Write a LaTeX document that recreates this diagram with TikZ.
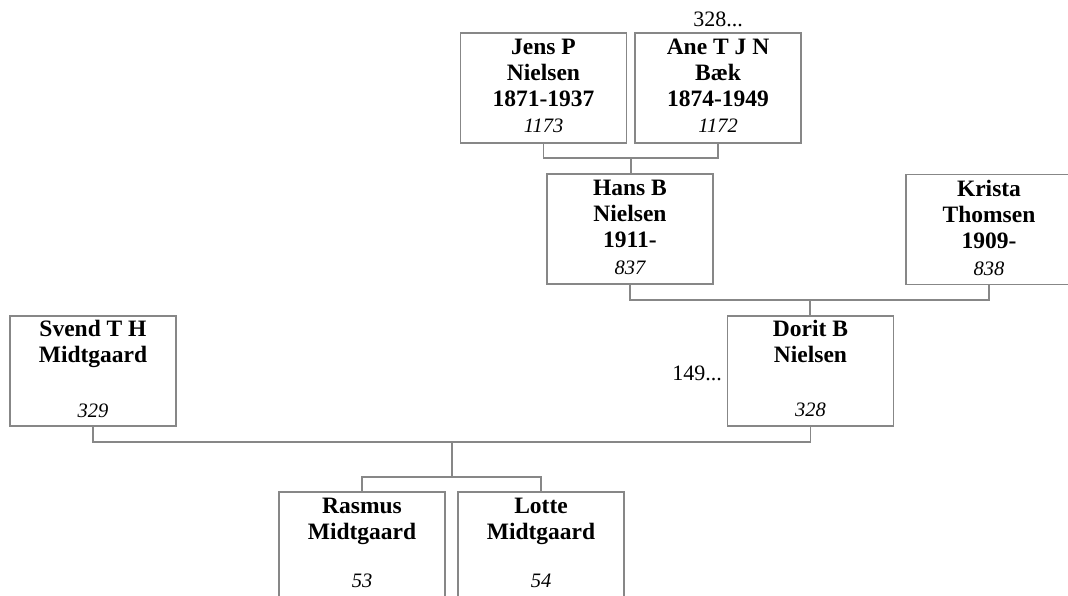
\documentclass[tikz,border=0pt]{standalone}
\usepackage{fontspec}
\setmainfont{Liberation Serif}
\definecolor{linegray}{RGB}{135,135,135}
\begin{document}
\begin{tikzpicture}[x=1pt,y=-1pt,
  person/.style={draw=linegray,line width=1.1pt,minimum width=166pt,minimum height=110pt,inner sep=0pt,fill=white},
  namebox/.style={anchor=north,inner sep=0pt,align=center,font=\fontsize{23.5}{26}\selectfont\bfseries},
  idtext/.style={anchor=base,inner sep=0pt,font=\fontsize{20.5}{22}\selectfont\itshape},
  reftext/.style={inner sep=0pt,font=\fontsize{22}{25}\selectfont},
  conn/.style={draw=linegray,line width=1.1pt}]
\useasboundingbox (0,0) rectangle (1068,596);
% boxes
\node[person] (jens)   at (543.5,88) {};
\node[person] (ane)    at (718,88) {};
\node[person] (hans)   at (630,229) {};
\node[person] (krista) at (989,229.5) {};
\node[person] (svend)  at (93,371) {};
\node[person] (dorit)  at (810.5,371) {};
\node[person] (rasmus) at (362,547) {};
\node[person] (lotte)  at (541,547) {};
% names
\node[namebox] (jensN)   at ([yshift=-4pt]jens.north)   {\strut Jens P\\Nielsen\\1871-1937};
\node[namebox] (aneN)    at ([yshift=-4pt]ane.north)    {\strut Ane T J N\\Bæk\\1874-1949};
\node[namebox] (hansN)   at ([yshift=-4pt]hans.north)   {\strut Hans B\\Nielsen\\1911-};
\node[namebox] (kristaN) at ([yshift=-4pt]krista.north) {\strut Krista\\Thomsen\\1909-};
\node[namebox] (svendN)  at ([yshift=-3pt]svend.north)  {\strut Svend T H\\Midtgaard};
\node[namebox] (doritN)  at ([yshift=-3pt]dorit.north)  {\strut Dorit B\\Nielsen};
\node[namebox] (rasmusN) at ([yshift=-4pt]rasmus.north) {\strut Rasmus\\Midtgaard};
\node[namebox] (lotteN)  at ([yshift=-4pt]lotte.north)  {\strut Lotte\\Midtgaard};
% ids
\node[idtext] (jensI)   at ([yshift=11pt]jens.south)   {1173};
\node[idtext] (aneI)    at ([yshift=11pt]ane.south)    {1172};
\node[idtext] (hansI)   at ([yshift=10pt]hans.south)   {837};
\node[idtext] (kristaI) at ([yshift=10pt]krista.south) {838};
\node[idtext] (svendI)  at ([yshift=9pt]svend.south)   {329};
\node[idtext] (doritI)  at ([yshift=10pt]dorit.south)  {328};
\node[idtext] (rasmusI) at (362,587) {53};
\node[idtext] (lotteI)  at (541,587) {54};
% references
\node[reftext,anchor=base] (ref328) at (718,27) {328...};
\node[reftext,anchor=base east] (ref149) at (722,380) {149...};
% connectors
\coordinate (m1) at (631,158);
\coordinate (m2) at (810,300);
\coordinate (m3) at (452,442);
\coordinate (m4) at (452,477);
\draw[conn] (jens.south) |- (m1) -| (ane.south);
\draw[conn] (m1) -- (m1 |- hans.north);
\draw[conn] (hans.south) |- (m2) -| (krista.south);
\draw[conn] (m2) -- (m2 |- dorit.north);
\draw[conn] (svend.south) |- (m3) -| (dorit.south);
\draw[conn] (m3) -- (m4);
\draw[conn] (rasmus.north) |- (m4) -| (lotte.north);
\end{tikzpicture}
\end{document}
